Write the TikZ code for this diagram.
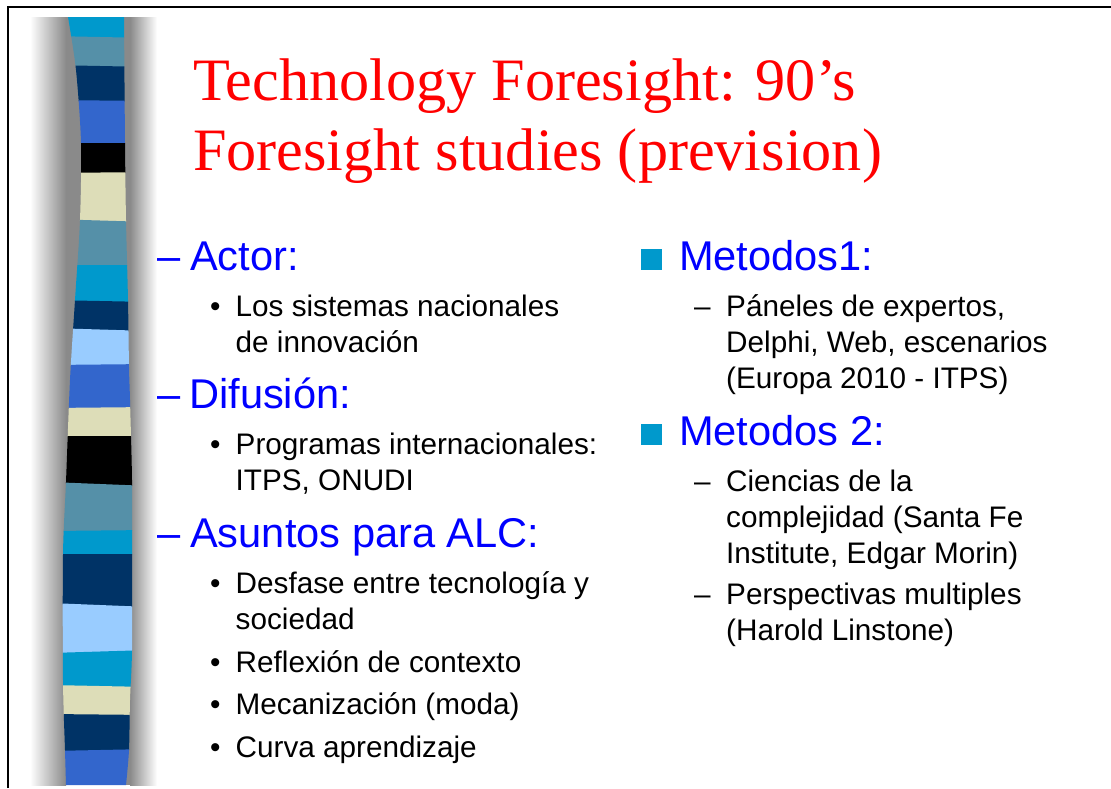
\documentclass[tikz,border=0pt]{standalone}
\usepackage{fontspec}
\setmainfont{Liberation Serif}
\newfontfamily\arialf{Liberation Sans}
\definecolor{cyanb}{HTML}{0099CC}
\definecolor{steel}{HTML}{5590A8}
\definecolor{navy}{HTML}{003366}
\definecolor{royal}{HTML}{3366CC}
\definecolor{beige}{HTML}{DDDDB8}
\definecolor{lightb}{HTML}{99CCFF}
\definecolor{shadowgray}{HTML}{8A8A8A}
\definecolor{titlered}{HTML}{FF0000}
\definecolor{headblue}{HTML}{0000FF}
\begin{document}
\begin{tikzpicture}[x=1pt,y=-1pt,
  titletext/.style={anchor=base west, inner sep=0pt, text=titlered, font=\fontsize{60.2}{70}\selectfont},
  headtext/.style={anchor=base west, inner sep=0pt, text=headblue, font=\arialf\fontsize{41.6}{49}\selectfont},
  bodytext/.style={anchor=base west, inner sep=0pt, text=black, font=\arialf\fontsize{29.7}{36}\selectfont},
  sqbullet/.style={fill=cyanb, inner sep=0pt, minimum size=20.5pt, draw=none},
]
\useasboundingbox[fill=white] (0,0) rectangle (1111,788);
% frame
\draw[line width=2pt] (8,788) -- (8,7) -- (1111,7);
% shadow of the bar
\shade[left color=white, right color=shadowgray] (30,17) rectangle (66,785);
\fill[shadowgray] (66,17) rectangle (130,785);
\shade[left color=shadowgray, right color=white] (130,17) rectangle (157,785);
% striped bar
\begin{scope}
\clip plot[smooth] coordinates {(68,17) (76,70) (81,143) (80,220) (75,300) (70,380) (66,482) (63,555) (63,680) (65,750) (66,785)}
  -- plot[smooth] coordinates {(126,785) (129,750) (130,700) (132,650) (132,555) (132,480) (130,400) (129,367) (128,300) (126,220) (125,143) (124,17)} -- cycle;
\foreach \ya/\yb/\yc/\yd/\col in {
  17/17/36/38/cyanb, 36/38/65/67/steel, 65/67/100/101/navy, 100/101/143/143/royal,
  143/143/173/172/black, 173/172/219/222/beige, 219/222/265/265/steel, 265/265/300/302/cyanb,
  300/302/328/331/navy, 328/331/365/364/lightb, 365/364/408/407/royal, 408/407/436/436/beige,
  436/436/482/486/black, 482/486/531/530/steel, 531/530/554/554/cyanb, 554/554/603/607/navy,
  603/607/653/650/lightb, 653/650/685/687/cyanb, 685/687/714/715/beige, 714/715/751/749/navy,
  751/749/786/786/royal}
{\fill[\col] (50,\ya) -- (150,\yb) -- (150,{\yd+0.8}) -- (50,{\yc+0.8}) -- cycle;}
\end{scope}
% title
\node[titletext] (t1) at (193,100) {Technology Foresight: 90’s};
\node[titletext] (t2) at (193,170) {Foresight studies (prevision)};
% left column
\node[headtext] (d1) at (157,270) {–};
\node[headtext] (h1) at (190,270) {Actor:};
\node[bodytext] (p1) at (210,316) {•};
\node[bodytext] (l1) at (235.5,316) {Los sistemas nacionales};
\node[bodytext] (l2) at (235.5,352) {de innovación};
\node[headtext] (d2) at (157,408) {–};
\node[headtext] (h2) at (189,408) {Difusión:};
\node[bodytext] (p2) at (210,454) {•};
\node[bodytext] (l3) at (235.5,454) {Programas internacionales:};
\node[bodytext] (l4) at (235.5,490) {ITPS, ONUDI};
\node[headtext] (d3) at (157,547) {–};
\node[headtext] (h3) at (190,547) {Asuntos para ALC:};
\node[bodytext] (p3) at (210,593) {•};
\node[bodytext] (l5) at (235.5,593) {Desfase entre tecnología y};
\node[bodytext] (l6) at (235.5,629) {sociedad};
\node[bodytext] (p4) at (210,672) {•};
\node[bodytext] (l7) at (235.5,672) {Reflexión de contexto};
\node[bodytext] (p5) at (210,714) {•};
\node[bodytext] (l8) at (235.5,714) {Mecanización (moda)};
\node[bodytext] (p6) at (210,757) {•};
\node[bodytext] (l9) at (235.5,757) {Curva aprendizaje};
% right column
\node[sqbullet] (s1) at (651.5,259.5) {};
\node[headtext] (m1) at (679,270) {Metodos1:};
\node[bodytext] (e1) at (694,316) {–};
\node[bodytext] (r1) at (726,316) {Páneles de expertos,};
\node[bodytext] (r2) at (726,352) {Delphi, Web, escenarios};
\node[bodytext] (r3) at (726,388) {(Europa 2010 - ITPS)};
\node[sqbullet] (s2) at (651.5,434.5) {};
\node[headtext] (m2) at (679,445) {Metodos 2:};
\node[bodytext] (e2) at (694,491) {–};
\node[bodytext] (r4) at (726,491) {Ciencias de la};
\node[bodytext] (r5) at (726,527) {complejidad (Santa Fe};
\node[bodytext] (r6) at (726,563) {Institute, Edgar Morin)};
\node[bodytext] (e3) at (694,604) {–};
\node[bodytext] (r7) at (726,604) {Perspectivas multiples};
\node[bodytext] (r8) at (726,640) {(Harold Linstone)};
\end{tikzpicture}
\end{document}
